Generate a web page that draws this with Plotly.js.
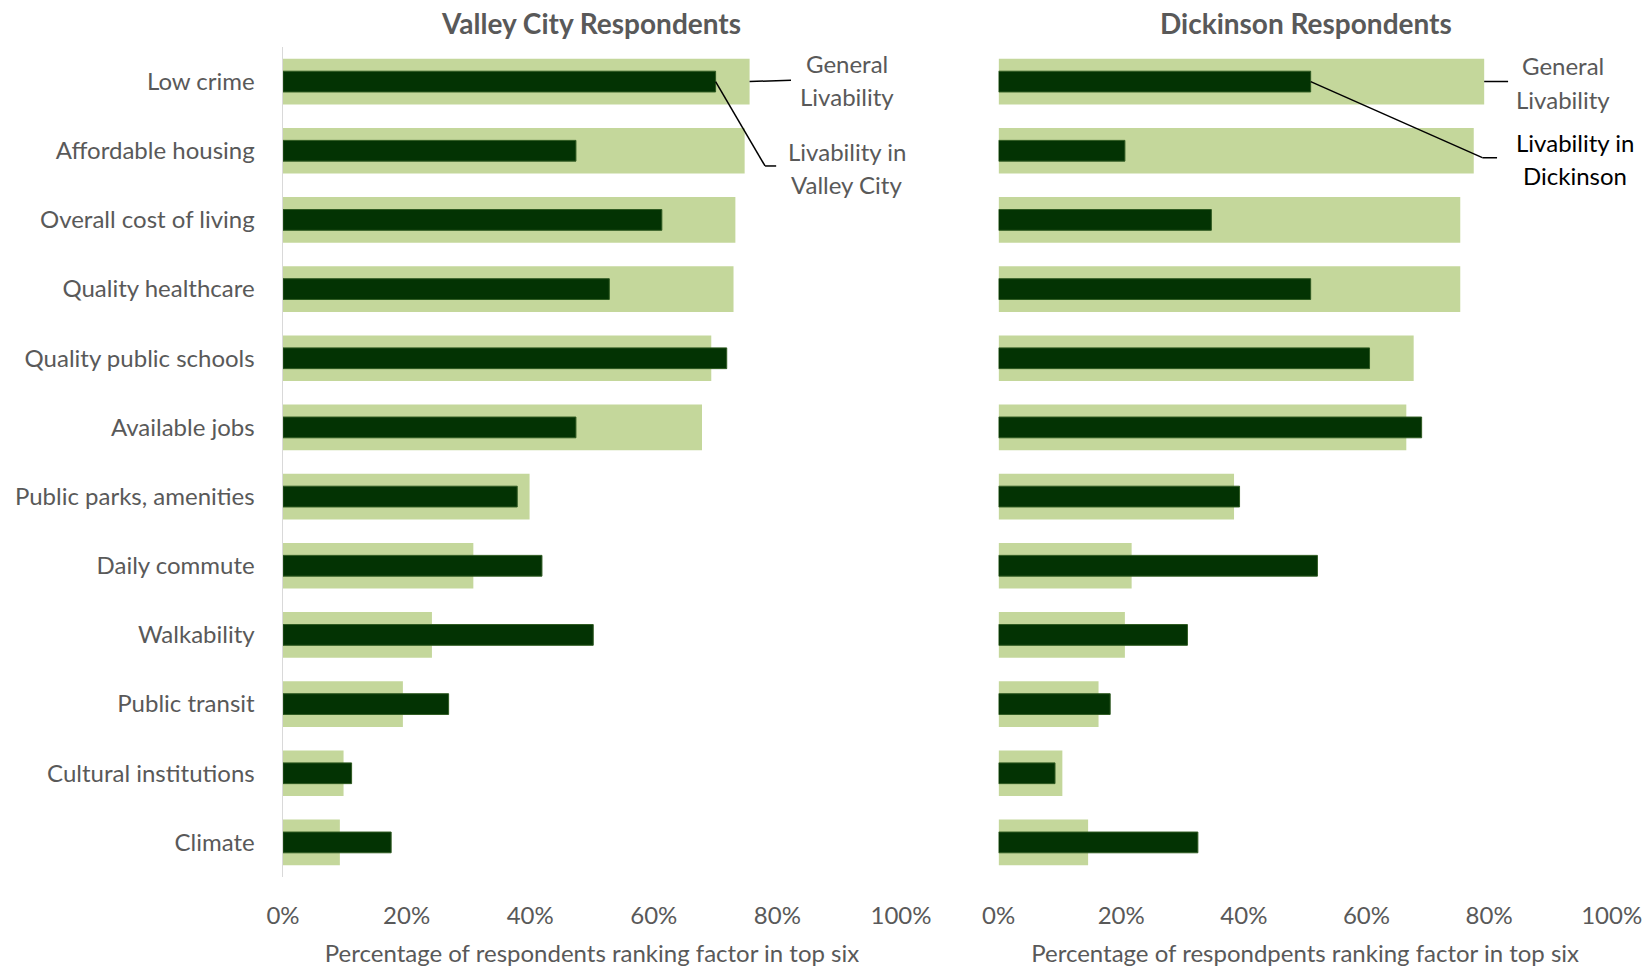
<!DOCTYPE html>
<html>
<head>
<meta charset="utf-8">
<script src="https://cdn.plot.ly/plotly-3.0.1.min.js"></script>
<style>html,body{margin:0;padding:0;background:#fff;}#chart{width:1643px;height:967px;}</style>
</head>
<body>
<div id="chart"></div>
<script>
// ---- data ----
var categories = ["Low crime", "Affordable housing", "Overall cost of living", "Quality healthcare",
  "Quality public schools", "Available jobs", "Public parks, amenities", "Daily commute",
  "Walkability", "Public transit", "Cultural institutions", "Climate"];
var valleyGeneral = [75.5, 74.7, 73.2, 72.9, 69.3, 67.8, 39.9, 30.8, 24.1, 19.4, 9.8, 9.2];
var valleyLocal   = [70.0, 47.4, 61.3, 52.8, 71.8, 47.4, 37.9, 41.9, 50.2, 26.8, 11.1, 17.5];
var dickGeneral   = [79.2, 77.5, 75.3, 75.3, 67.7, 66.5, 38.4, 21.7, 20.6, 16.3, 10.4, 14.6];
var dickLocal     = [50.9, 20.6, 34.7, 50.9, 60.5, 69.0, 39.3, 52.0, 30.8, 18.2, 9.2, 32.5];
var tickVals = [0, 20, 40, 60, 80, 100];
var tickText = ["0%", "20%", "40%", "60%", "80%", "100%"];
var leftTitle = "Valley City Respondents";
var rightTitle = "Dickinson Respondents";
var leftXTitle = "Percentage of respondents ranking factor in top six";
var rightXTitle = "Percentage of respondpents ranking factor in top six";

// ---- layout helpers ----
var W = 1643, H = 967, T = 47, B = 90;
function px(x) { return x / W; }
function py(y) { return (H - B - y) / (H - T - B); }
var LIGHT = "#c4d79b", DARK = "#033303", GRAY = "#595959";
var FONT = "Lato, 'Open Sans', sans-serif";
var FS = 24;

function lightTrace(vals, xa, ya) {
  return {type: "bar", orientation: "h", y: categories, x: vals, xaxis: xa, yaxis: ya,
    width: 0.66, marker: {color: LIGHT, line: {width: 0}}, hoverinfo: "x+y", showlegend: false};
}
function darkTrace(vals, xa, ya) {
  return {type: "bar", orientation: "h", y: categories, x: vals, xaxis: xa, yaxis: ya,
    width: 0.30, marker: {color: DARK, line: {color: "#2f5a22", width: 1}}, hoverinfo: "x+y", showlegend: false};
}

var data = [
  lightTrace(valleyGeneral, "x", "y"), darkTrace(valleyLocal, "x", "y"),
  lightTrace(dickGeneral, "x2", "y2"), darkTrace(dickLocal, "x2", "y2")
];

function xAxis(domain, title) {
  return {domain: domain, range: [0, 100], tickmode: "array", tickvals: tickVals, ticktext: tickText,
    showgrid: false, zeroline: false, showline: false, ticks: "",
    ticklabelstandoff: 22, tickfont: {family: FONT, size: FS, color: GRAY},
    fixedrange: true, automargin: false,
    title: {text: title, font: {family: FONT, size: FS, color: GRAY}, standoff: 20}};
}

function note(x, y, text, color) {
  return {xref: "paper", yref: "paper", x: px(x), y: py(y), text: text, showarrow: false,
    font: {family: FONT, size: FS, color: color || GRAY}, xanchor: "center", yanchor: "middle"};
}

var layout = {
  width: W, height: H,
  margin: {l: 0, r: 0, t: T, b: B},
  paper_bgcolor: "#ffffff", plot_bgcolor: "#ffffff",
  barmode: "overlay",
  font: {family: FONT, color: GRAY},
  xaxis: xAxis([px(283), px(901)], leftXTitle),
  xaxis2: xAxis([px(998.6), px(1611.7)], rightXTitle),
  yaxis: {anchor: "x", type: "category", categoryorder: "array", categoryarray: categories,
    autorange: "reversed", showgrid: false, zeroline: false, showline: true,
    linecolor: "#d9d9d9", linewidth: 1.5, ticks: "", ticklabelstandoff: 22,
    tickfont: {family: FONT, size: FS, color: GRAY}, automargin: false, fixedrange: true},
  yaxis2: {anchor: "x2", type: "category", categoryorder: "array", categoryarray: categories,
    autorange: "reversed", showgrid: false, zeroline: false, showline: false,
    showticklabels: false, ticks: "", automargin: false, fixedrange: true},
  annotations: [
    {xref: "paper", yref: "paper", x: px(591), y: py(23), text: "<b>" + leftTitle + "</b>", showarrow: false,
      font: {family: FONT, size: 28, color: GRAY}, xanchor: "center", yanchor: "middle"},
    {xref: "paper", yref: "paper", x: px(1306), y: py(23), text: "<b>" + rightTitle + "</b>", showarrow: false,
      font: {family: FONT, size: 28, color: GRAY}, xanchor: "center", yanchor: "middle"},
    note(847, 64, "General"),
    note(847, 97, "Livability"),
    note(847, 151, "Livability in"),
    note(847, 184, "Valley City"),
    note(1563, 65, "General"),
    note(1563, 99, "Livability"),
    note(1575, 142, "Livability in", "#000000"),
    note(1575, 175, "Dickinson", "#000000")
  ],
  shapes: [
    {type: "line", xref: "x", yref: "y", x0: valleyGeneral[0], y0: 0, x1: 82.2, y1: -0.02,
      line: {color: "#000", width: 1.5}},
    {type: "line", xref: "x", yref: "y", x0: valleyLocal[0], y0: 0, x1: 78.0, y1: 1.22,
      line: {color: "#000", width: 1.5}},
    {type: "line", xref: "x", yref: "y", x0: 78.0, y0: 1.22, x1: 79.8, y1: 1.22,
      line: {color: "#000", width: 1.5}},
    {type: "line", xref: "x2", yref: "y2", x0: dickGeneral[0], y0: 0, x1: 83.1, y1: 0,
      line: {color: "#000", width: 1.5}},
    {type: "line", xref: "x2", yref: "y2", x0: dickLocal[0], y0: 0, x1: 78.9, y1: 1.10,
      line: {color: "#000", width: 1.5}},
    {type: "line", xref: "x2", yref: "y2", x0: 78.9, y0: 1.10, x1: 81.3, y1: 1.10,
      line: {color: "#000", width: 1.5}}
  ]
};

Plotly.newPlot("chart", data, layout, {displayModeBar: false, staticPlot: true});
</script>
</body>
</html>
